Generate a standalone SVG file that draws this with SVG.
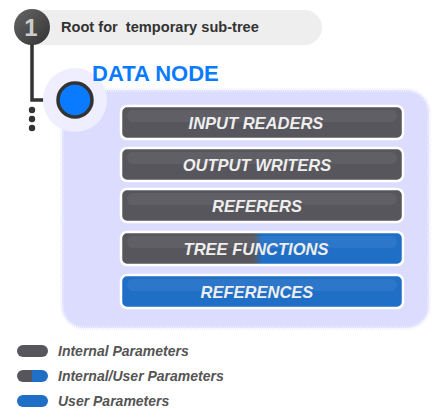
<svg xmlns="http://www.w3.org/2000/svg" width="435" height="417" viewBox="0 0 435 417">
<defs>
<linearGradient id="mix" x1="0" x2="1" y1="0" y2="0">
<stop offset="0.47" stop-color="#57565c"/>
<stop offset="0.5" stop-color="#1f6fc6"/>
</linearGradient>
<linearGradient id="mixL" x1="0" x2="1" y1="0" y2="0">
<stop offset="0.5" stop-color="#57565c"/>
<stop offset="0.5" stop-color="#1f6fc6"/>
</linearGradient>
<linearGradient id="one" x1="0" x2="1" y1="0" y2="1">
<stop offset="0" stop-color="#666"/>
<stop offset="1" stop-color="#333"/>
</linearGradient>
</defs>
<style>
.bar{stroke:#ffffff;stroke-width:2.5}
.dark{fill:#57565c}
.blue{fill:#1f6fc6}
.hl{fill:#ffffff;fill-opacity:0.06}
.lbl{font-family:"Liberation Sans",Arial,sans-serif;font-weight:bold;font-style:italic;font-size:16.5px;fill:#eeeeee;text-anchor:middle}
.leg{font-family:"Liberation Sans",Arial,sans-serif;font-weight:bold;font-style:italic;font-size:14px;fill:#555555}
</style>
<g id="header">
<rect x="15" y="10" width="307" height="35" rx="17.5" fill="#eeeeee"/>
<text x="61" y="32" font-family="Liberation Sans,Arial,sans-serif" font-weight="bold" font-size="14.6" fill="#333333" xml:space="preserve">Root for  temporary sub-tree</text>
</g>
<g id="connectors">
<polyline points="32,40 32,100 62,100" fill="none" stroke="#333333" stroke-width="3.5"/>
<circle cx="32" cy="110" r="3.2" fill="#333333"/>
<circle cx="32" cy="119" r="3.2" fill="#333333"/>
<circle cx="32" cy="128" r="3.2" fill="#333333"/>
</g>
<g id="step-1">
<circle cx="32" cy="27" r="18" fill="url(#one)"/>
<text x="31" y="36" font-family="Liberation Sans,Arial,sans-serif" font-weight="bold" font-size="24" fill="#cccccc" text-anchor="middle">1</text>
</g>
<g id="data-node">
<rect x="62" y="90" width="367" height="238" rx="22" fill="#dcdcff" stroke="#eeeeff" stroke-width="4" stroke-dasharray="1 1.2"/>
<circle cx="75" cy="100" r="32" fill="#eeeeff"/>
<circle cx="75" cy="100" r="17" fill="#0a7bff" stroke="#333333" stroke-width="3.5"/>
<text x="92" y="81" font-family="Liberation Sans,Arial,sans-serif" font-weight="bold" font-size="22" fill="#0a7bff">DATA NODE</text>
</g>
<g id="input-readers">
<rect class="bar dark" x="121" y="106" width="282" height="33" rx="6"/>
<rect class="hl" x="127" y="110" width="270" height="12" rx="6"/>
<text class="lbl" x="256" y="128.5">INPUT READERS</text>
</g>
<g id="output-writers">
<rect class="bar dark" x="121" y="148" width="282" height="33" rx="6"/>
<rect class="hl" x="127" y="152" width="270" height="12" rx="6"/>
<text class="lbl" x="257" y="170.5">OUTPUT WRITERS</text>
</g>
<g id="referers">
<rect class="bar dark" x="121" y="189" width="282" height="33" rx="6"/>
<rect class="hl" x="127" y="193" width="270" height="12" rx="6"/>
<text class="lbl" x="257" y="211.5">REFERERS</text>
</g>
<g id="tree-functions">
<rect class="bar" x="121" y="232" width="282" height="33" rx="6" fill="url(#mix)"/>
<rect class="hl" x="127" y="236" width="270" height="12" rx="6"/>
<text class="lbl" x="256" y="254.5">TREE FUNCTIONS</text>
</g>
<g id="references">
<rect class="bar blue" x="121" y="275" width="282" height="33" rx="6"/>
<rect class="hl" x="127" y="279" width="270" height="12" rx="6"/>
<text class="lbl" x="257" y="297.5">REFERENCES</text>
</g>
<g id="legend">
<rect x="17" y="345" width="31" height="12" rx="6" fill="#57565c"/>
<text class="leg" x="58" y="356">Internal Parameters</text>
<rect x="17" y="370" width="31" height="12" rx="6" fill="url(#mixL)"/>
<text class="leg" x="58" y="381">Internal/User Parameters</text>
<rect x="17" y="395" width="31" height="12" rx="6" fill="#1f6fc6"/>
<text class="leg" x="58" y="406">User Parameters</text>
</g>
</svg>
